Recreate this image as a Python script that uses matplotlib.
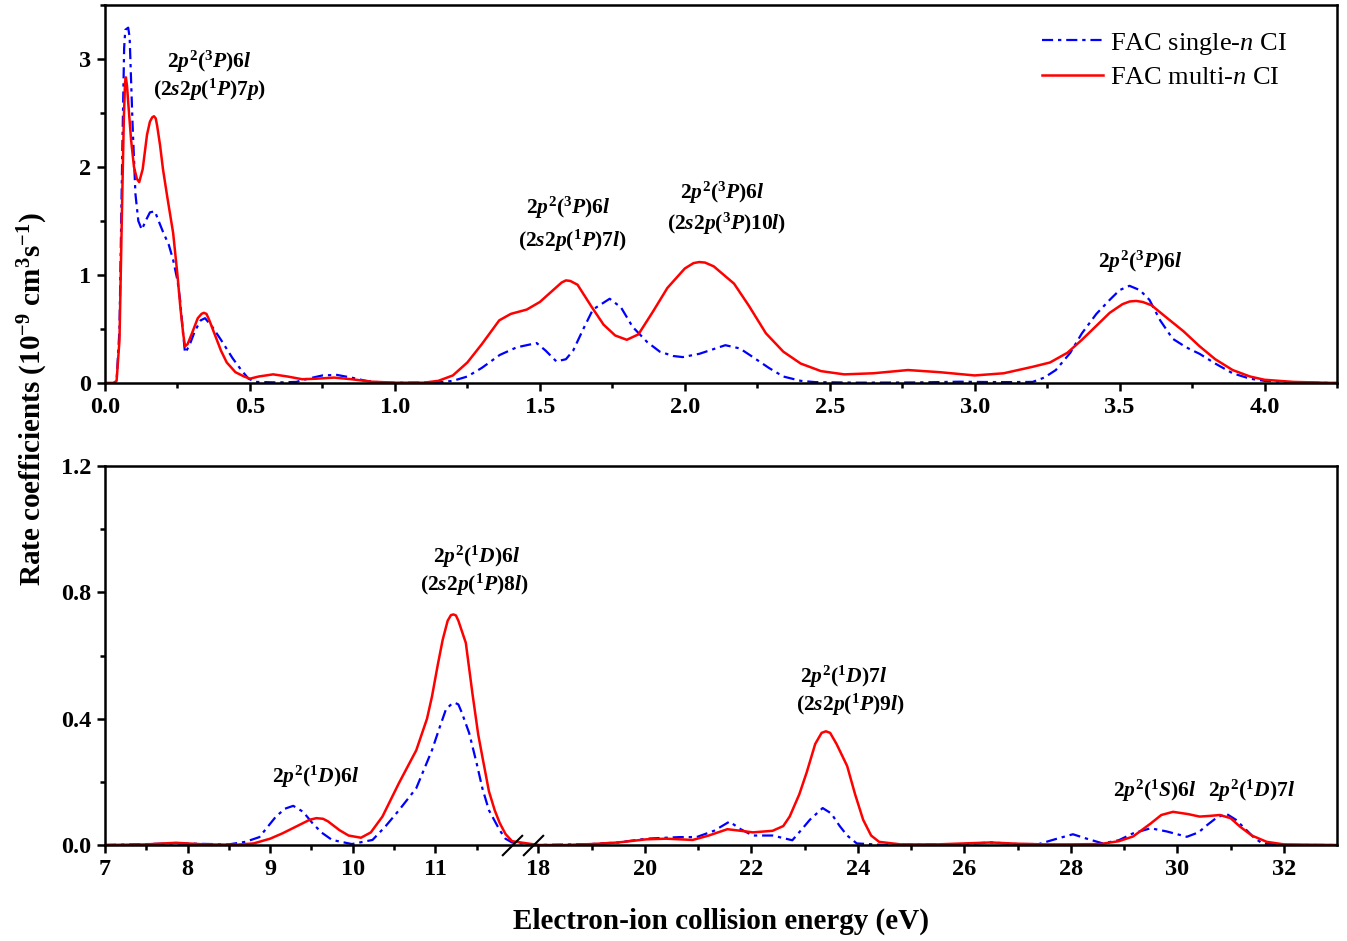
import numpy as np
import matplotlib
matplotlib.use("Agg")
import matplotlib.pyplot as plt
from matplotlib import transforms
from matplotlib.ticker import FixedLocator, MultipleLocator, FuncFormatter

plt.rcParams['font.family'] = ['Liberation Serif', 'DejaVu Serif']
plt.rcParams['mathtext.fontset'] = 'custom'
plt.rcParams['mathtext.rm'] = 'Liberation Serif:bold'
plt.rcParams['mathtext.it'] = 'Liberation Serif:bold:italic'
plt.rcParams['mathtext.bf'] = 'Liberation Serif:bold'
plt.rcParams['mathtext.sf'] = 'Liberation Serif:italic'

# ---------------- data: top panel (0 - 4.25 eV) ----------------
top_multi_x = [0.00, 0.03, 0.04, 0.05, 0.06, 0.065, 0.069, 0.072, 0.076, 0.08, 0.09, 0.10, 0.11, 0.118,
               0.13, 0.145, 0.155, 0.163, 0.169, 0.175, 0.18, 0.19, 0.20, 0.215, 0.235, 0.25, 0.26, 0.27,
               0.276, 0.285, 0.30, 0.32, 0.333, 0.341, 0.35, 0.36, 0.38, 0.40, 0.42, 0.45, 0.48, 0.50,
               0.53, 0.58, 0.63, 0.68, 0.73, 0.79, 0.85, 0.92, 1.00, 1.10, 1.15, 1.20, 1.25, 1.30, 1.36,
               1.40, 1.455, 1.50, 1.55, 1.575, 1.59, 1.605, 1.63, 1.68, 1.72, 1.76, 1.80, 1.84, 1.89,
               1.94, 2.00, 2.03, 2.05, 2.07, 2.10, 2.17, 2.22, 2.28, 2.34, 2.40, 2.47, 2.55, 2.65, 2.77,
               2.88, 3.00, 3.10, 3.20, 3.26, 3.32, 3.37, 3.42, 3.466, 3.51, 3.535, 3.557, 3.58, 3.61,
               3.66, 3.72, 3.776, 3.83, 3.89, 3.95, 4.00, 4.10, 4.25]
top_multi_y = [0.0, 0.0, 0.02, 0.4, 1.8, 2.45, 2.78, 2.83, 2.75, 2.6, 2.25, 2.0, 1.89, 1.86,
               1.98, 2.3, 2.42, 2.46, 2.47, 2.45, 2.38, 2.2, 1.98, 1.72, 1.39, 1.0, 0.7, 0.45,
               0.34, 0.36, 0.46, 0.6, 0.64, 0.65, 0.64, 0.58, 0.44, 0.30, 0.19, 0.10, 0.06, 0.04,
               0.06, 0.08, 0.06, 0.035, 0.04, 0.05, 0.035, 0.012, 0.003, 0.003, 0.02, 0.07, 0.19, 0.36, 0.58,
               0.64, 0.68, 0.75, 0.87, 0.93, 0.95, 0.945, 0.91, 0.70, 0.54, 0.44, 0.40, 0.45, 0.66,
               0.88, 1.06, 1.11, 1.12, 1.115, 1.08, 0.92, 0.72, 0.46, 0.29, 0.18, 0.11, 0.08, 0.09, 0.12,
               0.10, 0.07, 0.09, 0.15, 0.19, 0.28, 0.40, 0.53, 0.65, 0.73, 0.755, 0.76, 0.75, 0.72,
               0.61, 0.48, 0.34, 0.22, 0.12, 0.06, 0.03, 0.01, 0.0]

top_single_x = [0.00, 0.03, 0.04, 0.05, 0.06, 0.066, 0.07, 0.08, 0.085, 0.095, 0.105, 0.115, 0.127, 0.14,
                0.155, 0.172, 0.185, 0.20, 0.22, 0.235, 0.25, 0.259, 0.268, 0.276, 0.29, 0.31, 0.33, 0.345,
                0.37, 0.40, 0.44, 0.47, 0.495, 0.52, 0.60, 0.66, 0.70, 0.75, 0.80, 0.85, 0.90, 0.95, 1.00,
                1.15, 1.20, 1.25, 1.30, 1.362, 1.42, 1.489, 1.52, 1.557, 1.59, 1.615, 1.65, 1.683, 1.741,
                1.78, 1.82, 1.87, 1.914, 1.96, 1.993, 2.05, 2.14, 2.19, 2.235, 2.29, 2.34, 2.40, 2.45, 2.60,
                2.80, 2.95, 3.00, 3.10, 3.20, 3.24, 3.28, 3.33, 3.37, 3.42, 3.466, 3.50, 3.534, 3.57, 3.603,
                3.64, 3.683, 3.73, 3.776, 3.83, 3.89, 3.95, 4.00, 4.10, 4.25]
top_single_y = [0.0, 0.0, 0.02, 0.5, 2.2, 3.1, 3.27, 3.29, 3.2, 2.4, 1.75, 1.50, 1.42, 1.5,
                1.58, 1.59, 1.5, 1.4, 1.28, 1.14, 0.95, 0.77, 0.5, 0.28, 0.34, 0.48, 0.58, 0.60,
                0.52, 0.40, 0.23, 0.12, 0.04, 0.01, 0.005, 0.01, 0.04, 0.07, 0.075, 0.05, 0.02, 0.005, 0.002,
                0.005, 0.02, 0.06, 0.14, 0.26, 0.33, 0.37, 0.30, 0.20, 0.22, 0.30, 0.50, 0.68, 0.78,
                0.70, 0.52, 0.38, 0.29, 0.25, 0.24, 0.27, 0.35, 0.32, 0.24, 0.14, 0.06, 0.02, 0.008, 0.003,
                0.005, 0.012, 0.01, 0.008, 0.01, 0.05, 0.12, 0.28, 0.46, 0.64, 0.77, 0.86, 0.90, 0.86, 0.77,
                0.58, 0.41, 0.33, 0.27, 0.18, 0.09, 0.04, 0.02, 0.005, 0.0]

# ---------------- data: bottom panel (7 - 33 eV, broken) ----------------
bot_multi_x = [7.0, 7.5, 7.86, 8.2, 8.6, 8.8, 9.0, 9.15, 9.35, 9.48, 9.56, 9.64, 9.70, 9.84, 9.95, 10.1,
               10.22, 10.36, 10.56, 10.77, 10.9, 10.96, 11.03, 11.09, 11.15, 11.19, 11.22, 11.25, 11.28,
               11.37, 11.45, 11.52, 11.57, 11.65, 11.72, 11.78, 11.85, 11.93,
               18.0, 18.5, 19.0, 19.5, 20.03, 20.4, 20.9, 21.2, 21.55, 21.8, 22.03, 22.4, 22.6, 22.72,
               22.9, 23.04, 23.2, 23.32, 23.4, 23.48, 23.6, 23.8, 23.95, 24.1, 24.25, 24.4, 24.8, 25.5,
               26.5, 27.0, 27.5, 28.0, 28.55, 28.9, 29.17, 29.5, 29.7, 29.92, 30.2, 30.42, 30.6, 30.8,
               31.0, 31.18, 31.4, 31.68, 32.0, 33.0]
bot_multi_y = [0.0, 0.002, 0.007, 0.002, 0.001, 0.005, 0.02, 0.037, 0.063, 0.08, 0.085, 0.083, 0.075,
               0.047, 0.03, 0.023, 0.04, 0.09, 0.196, 0.30, 0.40, 0.47, 0.57, 0.65, 0.71, 0.728, 0.73,
               0.727, 0.71, 0.64, 0.48, 0.35, 0.28, 0.17, 0.11, 0.07, 0.035, 0.012,
               0.0, 0.0, 0.003, 0.008, 0.018, 0.02, 0.016, 0.03, 0.05, 0.045, 0.04, 0.045, 0.06, 0.09,
               0.16, 0.23, 0.32, 0.355, 0.36, 0.355, 0.32, 0.25, 0.16, 0.08, 0.03, 0.01, 0.002, 0.002,
               0.008, 0.004, 0.002, 0.002, 0.003, 0.012, 0.027, 0.068, 0.095, 0.105, 0.098, 0.09, 0.092,
               0.095, 0.085, 0.058, 0.03, 0.01, 0.002, 0.0]

bot_single_x = [7.0, 7.86, 8.5, 8.7, 8.87, 9.07, 9.18, 9.28, 9.40, 9.51, 9.62, 9.75, 9.99, 10.24,
                10.4, 10.56, 10.77, 10.96, 11.05, 11.13, 11.2, 11.24, 11.28, 11.32, 11.41, 11.50, 11.57,
                11.65, 11.78, 11.85, 11.93,
                18.0, 19.0, 19.5, 20.03, 20.65, 20.97, 21.3, 21.59, 21.8, 22.03, 22.4, 22.77, 22.95, 23.1,
                23.34, 23.5, 23.66, 23.8, 23.98, 24.5, 26.0, 26.5, 27.0, 27.4, 27.7, 28.04, 28.3, 28.6,
                28.9, 29.17, 29.5, 29.8, 30.18, 30.4, 30.56, 30.75, 30.93, 31.1, 31.3, 31.45, 31.6, 32.0,
                33.0]
bot_single_y = [0.0, 0.005, 0.002, 0.01, 0.025, 0.09, 0.115, 0.124, 0.105, 0.07, 0.04, 0.016, 0.003,
                0.016, 0.06, 0.11, 0.18, 0.30, 0.37, 0.43, 0.447, 0.45, 0.445, 0.42, 0.355, 0.26, 0.18,
                0.11, 0.047, 0.02, 0.008,
                0.0, 0.003, 0.008, 0.02, 0.025, 0.025, 0.045, 0.074, 0.05, 0.03, 0.03, 0.015, 0.05, 0.08,
                0.117, 0.1, 0.06, 0.03, 0.005, 0.0, 0.003, 0.008, 0.003, 0.003, 0.018, 0.034, 0.02, 0.005,
                0.015, 0.037, 0.053, 0.043, 0.026, 0.04, 0.063, 0.088, 0.098, 0.08, 0.047, 0.022, 0.005,
                0.0, 0.0]

top_ticks = [0.0, 0.5, 1.0, 1.5, 2.0, 2.5, 3.0, 3.5, 4.0]
top_yticks = [0, 1, 2, 3]
bot_ticks = [7, 8, 9, 10, 11, 18, 20, 22, 24, 26, 28, 30, 32]
bot_minor = [7.5, 8.5, 9.5, 10.5, 11.5, 19, 21, 23, 25, 27, 29, 31]
bot_yticks = [0.0, 0.4, 0.8, 1.2]

top_labels = [(r"$2p^2(^3P)6l$", 0.36, 2.92), (r"$(2s2p(^1P)7p)$", 0.36, 2.66),
              (r"$2p^2(^3P)6l$", 1.60, 1.57), (r"$(2s2p(^1P)7l)$", 1.61, 1.26),
              (r"$2p^2(^3P)6l$", 2.13, 1.71), (r"$(2s2p(^3P)10l)$", 2.145, 1.42),
              (r"$2p^2(^3P)6l$", 3.57, 1.07)]
bot_labels = [(r"$2p^2(^1D)6l$", 9.55, 0.196), (r"$2p^2(^1D)6l$", 11.5, 0.895),
              (r"$(2s2p(^1P)8l)$", 11.47, 0.805), (r"$2p^2(^1D)7l$", 23.73, 0.512),
              (r"$(2s2p(^1P)9l)$", 23.85, 0.424), (r"$2p^2(^1S)6l$", 29.58, 0.152),
              (r"$2p^2(^1D)7l$", 31.4, 0.152)]

# ---------------- broken x scale ----------------
XB, A, B, U18 = 11.93, 82.5, 53.2, 433.0
UB = (XB - 7) * A
G = (U18 - UB) / (18 - XB)


def fwd(x):
    x = np.asarray(x, dtype=float)
    return np.where(x <= XB, (x - 7) * A,
                    np.where(x >= 18, U18 + (x - 18) * B, UB + (x - XB) * G))


def inv(u):
    u = np.asarray(u, dtype=float)
    return np.where(u <= UB, 7 + u / A,
                    np.where(u >= U18, 18 + (u - U18) / B, XB + (u - UB) / G))


W, H = 1347, 941
fig = plt.figure(figsize=(W / 100, H / 100), dpi=100)
ax1 = fig.add_axes([105 / W, 1 - 383 / H, 1232 / W, 378 / H])
ax2 = fig.add_axes([105 / W, 1 - 845 / H, 1232 / W, 379 / H])

red = '#ff0000'
blue = '#0000ff'
dash = (0, (5, 2.2, 1.5, 2.2))
TICK_FS = 17.5
ANN_FS = 15.5

for ax in (ax1, ax2):
    for s in ax.spines.values():
        s.set_linewidth(1.8)
    ax.tick_params(which='major', direction='out', length=6, width=1.8,
                   labelsize=TICK_FS, top=False, right=False, pad=4)
    ax.tick_params(which='minor', direction='out', length=3.5, width=1.8, top=False, right=False)

ax1.plot(top_single_x, top_single_y, color=blue, lw=1.6, ls=dash, label=r"FAC single-$\mathsf{n}$ CI",
         dash_joinstyle='round')
ax1.plot(top_multi_x, top_multi_y, color=red, lw=1.8, label=r"FAC multi-$\mathsf{n}$ CI",
         solid_joinstyle='round')
ax1.set_xlim(0, 4.25)
ax1.set_ylim(0, 3.5)
ax1.xaxis.set_major_locator(FixedLocator(top_ticks))
ax1.xaxis.set_minor_locator(MultipleLocator(0.25))
ax1.yaxis.set_major_locator(FixedLocator(top_yticks))
ax1.yaxis.set_minor_locator(MultipleLocator(0.5))
ax1.xaxis.set_major_formatter(FuncFormatter(lambda v, p: f"{v:.1f}"))
ax1.yaxis.set_major_formatter(FuncFormatter(lambda v, p: f"{v:.0f}"))

leg = ax1.legend(loc='upper right', bbox_to_anchor=(0.979, 0.995), frameon=False,
                 prop={'family': 'Liberation Serif', 'size': 19}, handlelength=2.3,
                 handletextpad=0.3, labelspacing=0.35)

for t, x, y in top_labels:
    ax1.text(x, y, t, ha='center', va='baseline', fontsize=ANN_FS)

ax2.set_xscale('function', functions=(fwd, inv))
ax2.plot(bot_single_x, bot_single_y, color=blue, lw=1.6, ls=dash, dash_joinstyle='round')
ax2.plot(bot_multi_x, bot_multi_y, color=red, lw=1.8, solid_joinstyle='round')
ax2.set_xlim(7, 33)
ax2.set_ylim(0, 1.2)
ax2.xaxis.set_major_locator(FixedLocator(bot_ticks))
ax2.xaxis.set_minor_locator(FixedLocator(bot_minor))
ax2.yaxis.set_major_locator(FixedLocator(bot_yticks))
ax2.yaxis.set_minor_locator(MultipleLocator(0.2))
ax2.xaxis.set_major_formatter(FuncFormatter(lambda v, p: f"{v:.0f}"))
ax2.yaxis.set_major_formatter(FuncFormatter(lambda v, p: f"{v:.1f}"))

for t, x, y in bot_labels:
    ax2.text(x, y, t, ha='center', va='baseline', fontsize=ANN_FS)

# axis-break marks
trans = transforms.blended_transform_factory(ax2.transData, ax2.transAxes)
for xb in (XB, inv(U18 - 5.5)):
    ax2.plot([xb], [0], transform=trans, marker=[(-1, -1), (1, 1)], markersize=15,
             markeredgewidth=1.5, color='black', clip_on=False, zorder=5)

for ax in (ax1, ax2):
    for lab in ax.get_xticklabels() + ax.get_yticklabels():
        lab.set_fontweight('bold')

fig.text(33 / W, 1 - 399 / H, r"Rate coefficients (10$^{-9}$ cm$^3$s$^{-1}$)", rotation=90,
         ha='center', va='center', fontsize=21, fontweight='bold')
fig.text(721 / W, 1 - 921 / H, "Electron-ion collision energy (eV)", ha='center', va='center',
         fontsize=21, fontweight='bold')

fig.savefig("out.png", dpi=100)
